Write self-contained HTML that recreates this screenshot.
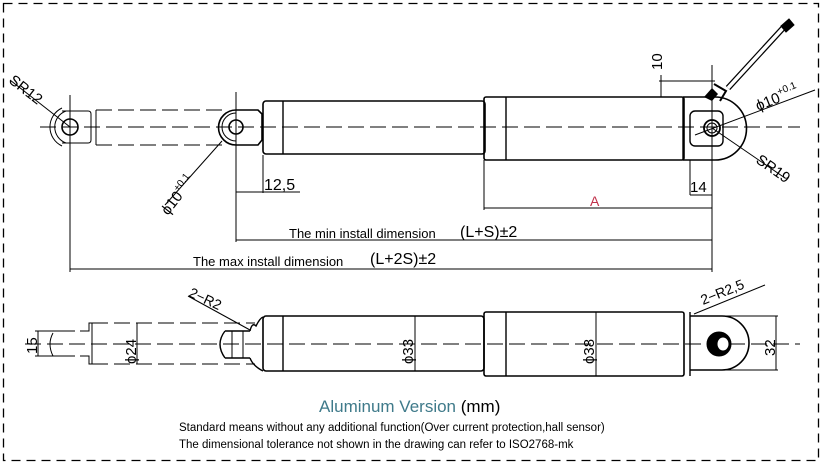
<!DOCTYPE html>
<html><head><style>
html,body{margin:0;padding:0;background:#fff;}
svg{display:block;}
text{font-family:"Liberation Sans",Arial,sans-serif;fill:#000;}
</style></head><body>
<svg width="823" height="465" viewBox="0 0 823 465" xmlns="http://www.w3.org/2000/svg">
<g fill="none" stroke="#000" stroke-width="1">
<rect x="3.5" y="3.5" width="815" height="457" stroke-dasharray="9,6" stroke-width="1.3"/>
<line x1="40" y1="127" x2="800" y2="127" stroke-dasharray="16,6"/>
<circle cx="70" cy="127" r="8" stroke-width="1.6"/>
<path d="M62 111 H88 Q91 111 91 114 V140 Q91 143 88 143 H62" />
<path d="M66 111 A17 17 0 0 0 66 143"/>
<path d="M62 108 A21 21 0 0 0 62 146"/>
<path d="M96 110 H225 M96 145 H225" stroke-dasharray="16,6"/>
<line x1="96" y1="110" x2="96" y2="145"/>
<line x1="70" y1="95" x2="70" y2="272"/>
<line x1="10" y1="80" x2="70" y2="127"/>
<path d="M236 110 H258 L262 114 V140 L258 145 H236 A17.5 17.5 0 0 1 236 110 Z" stroke-width="1.6"/>
<path d="M236 113 A14 14 0 0 0 236 141"/>
<circle cx="236" cy="127" r="7" stroke-width="1.6"/>
<line x1="236" y1="92" x2="236" y2="242"/>
<line x1="222" y1="141" x2="165" y2="205"/>
<rect x="263" y="101" width="222" height="53" rx="3" stroke-width="1.6"/>
<line x1="283" y1="101" x2="283" y2="154" stroke-width="1.4"/>
<rect x="484" y="97" width="200" height="63" rx="2" stroke-width="1.6"/>
<line x1="506" y1="97" x2="506" y2="160" stroke-width="1.4"/>
<line x1="683" y1="97" x2="683" y2="160" stroke-width="1.4"/>
<path d="M683 97 H715 A31.5 31.5 0 0 1 715 160 H683" stroke-width="1.6"/>
<rect x="690" y="111" width="33" height="35" rx="5" stroke-width="1.4"/>
<circle cx="712" cy="128" r="8" stroke-width="1.8"/>
<circle cx="712" cy="128" r="5"/>
<line x1="712" y1="65" x2="712" y2="210"/>
<line x1="695" y1="135" x2="815" y2="90"/>
<line x1="712" y1="128" x2="785" y2="178"/>
<line x1="728" y1="88" x2="784" y2="27" stroke-width="6"/>
<line x1="728" y1="88" x2="784" y2="27" stroke="#fff" stroke-width="3.5"/>
<path d="M781 26 L789 19 L794 25 L786 32 Z" fill="#000"/>
<path d="M704 97 L712 88 L718 94 L712 101 Z" fill="#000" stroke="none"/>
<path d="M714 84 L726 91 L720 101" stroke-width="2"/>
<line x1="659" y1="81" x2="715" y2="81"/>
<line x1="661" y1="75" x2="661" y2="97"/>
<line x1="263" y1="155" x2="263" y2="193"/>
<line x1="236" y1="192" x2="300" y2="192"/>
<line x1="690" y1="160" x2="690" y2="195"/>
<line x1="690" y1="195" x2="712" y2="195"/>
<line x1="484" y1="160" x2="484" y2="210"/>
<line x1="484" y1="208" x2="712" y2="208"/>
<line x1="236" y1="240" x2="712" y2="240"/>
<line x1="712" y1="208" x2="712" y2="272"/>
<line x1="70" y1="269" x2="712" y2="269"/>
<line x1="25" y1="344" x2="800" y2="344" stroke-dasharray="16,6"/>
<line x1="35" y1="331" x2="75" y2="331"/>
<line x1="35" y1="356" x2="75" y2="356"/>
<line x1="38" y1="331" x2="38" y2="356"/>
<path d="M53 333 Q47 344 53 356"/>
<path d="M80 331 H89 V323 H92 M80 356 H89 V364 H92"/>
<line x1="92" y1="323" x2="92" y2="364"/>
<path d="M92 323 H255 M92 364 H255" stroke-dasharray="16,6"/>
<line x1="137" y1="323" x2="137" y2="364"/>
<path d="M225 331 H250 M225 358 H250 M225 331 Q215 344 225 358" stroke-width="1.4"/>
<line x1="232" y1="331" x2="232" y2="358"/>
<line x1="243" y1="331" x2="243" y2="358"/>
<path d="M250 331 Q252 322 256 326 Q260 318 263 317 M250 358 Q253 366 263 371" stroke-width="1.4"/>
<line x1="188" y1="296" x2="250" y2="330"/>
<rect x="263" y="316" width="221" height="55" rx="3" stroke-width="1.6"/>
<line x1="283" y1="316" x2="283" y2="371" stroke-width="1.4"/>
<line x1="415" y1="316" x2="415" y2="371"/>
<rect x="484" y="312" width="200" height="64" rx="2" stroke-width="1.6"/>
<line x1="506" y1="312" x2="506" y2="376" stroke-width="1.4"/>
<line x1="596" y1="312" x2="596" y2="376"/>
<line x1="690" y1="312" x2="690" y2="376" stroke-width="1.4"/>
<path d="M690 316 H722 A27 27 0 0 1 722 370 H690" stroke-width="1.6"/>
<ellipse cx="719" cy="344" rx="12" ry="12" fill="#000"/>
<ellipse cx="723" cy="344" rx="6" ry="7" fill="#fff" stroke="#000"/>
<line x1="722" y1="316" x2="778" y2="316"/>
<line x1="722" y1="370" x2="778" y2="370"/>
<line x1="776" y1="316" x2="776" y2="370"/>
<line x1="694" y1="314" x2="765" y2="285"/>
</g>
<g font-size="15">
<text x="264" y="190" font-size="16">12,5</text>
<text x="690" y="192" font-size="15">14</text>
<text x="590" y="206" font-size="14" style="fill:#c0304a">A</text>
<text x="289" y="238" font-size="13">The min install dimension</text>
<text x="460" y="237" font-size="16">(L+S)±2</text>
<text x="193" y="266" font-size="13">The max install dimension</text>
<text x="370" y="264" font-size="16">(L+2S)±2</text>
<text transform="translate(662,70) rotate(-90)" font-size="15">10</text>
<text transform="translate(8,82) rotate(38)" font-size="15">SR12</text>
<text transform="translate(168,216) rotate(-52)" font-size="15">ϕ10<tspan font-size="10" dy="-7">+0.1</tspan></text>
<text transform="translate(758,111) rotate(-22)" font-size="15">ϕ10<tspan font-size="10" dy="-7">+0.1</tspan></text>
<text transform="translate(755,162) rotate(35)" font-size="15">SR19</text>
<text transform="translate(188,296) rotate(25)" font-size="14">2−R2</text>
<text transform="translate(703,305) rotate(-22)" font-size="14">2−R2,5</text>
<text transform="translate(37,354) rotate(-90)" font-size="15">15</text>
<text transform="translate(136,364) rotate(-90)" font-size="15">ϕ24</text>
<text transform="translate(413,364) rotate(-90)" font-size="15">ϕ33</text>
<text transform="translate(594,364) rotate(-90)" font-size="15">ϕ38</text>
<text transform="translate(775,356) rotate(-90)" font-size="15">32</text>
<text x="319" y="412" font-size="17" style="fill:#3f7a8a">Aluminum Version <tspan style="fill:#000">(mm)</tspan></text>
<text x="179" y="431" font-size="11.5">Standard means without any additional function(Over current protection,hall sensor)</text>
<text x="179" y="448" font-size="11.5">The dimensional tolerance not shown in the drawing can refer to ISO2768-mk</text>
</g>
</svg>
</body></html>
